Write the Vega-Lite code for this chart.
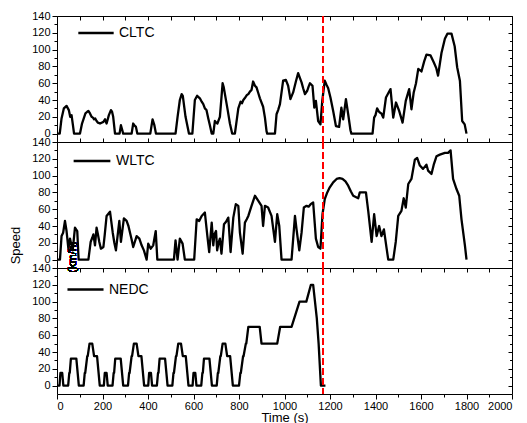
{
  "$schema": "https://vega.github.io/schema/vega-lite/v6.json",
  "background": "white",
  "padding": {"left": 8, "top": 9, "right": 5, "bottom": 0},
  "bounds": "flush",
  "spacing": 0,
  "datasets": {
    "cltc": [
      {"t":0,"v":0},{"t":12,"v":0},{"t":20,"v":18},{"t":30,"v":30},{"t":42,"v":33},{"t":52,"v":28},{"t":58,"v":20},{"t":64,"v":22},{"t":70,"v":10},{"t":75,"v":0},
      {"t":101,"v":0},{"t":110,"v":12},{"t":125,"v":24},{"t":133,"v":26},{"t":138,"v":27},{"t":145,"v":24},{"t":152,"v":20},{"t":158,"v":19},{"t":163,"v":17},{"t":168,"v":18},{"t":174,"v":15},{"t":180,"v":13},{"t":189,"v":12},{"t":196,"v":13},{"t":204,"v":14},{"t":211,"v":17},{"t":218,"v":12},{"t":228,"v":22},{"t":237,"v":28},{"t":242,"v":26},{"t":247,"v":20},{"t":255,"v":0},
      {"t":275,"v":0},{"t":281,"v":10},{"t":291,"v":0},{"t":328,"v":0},{"t":335,"v":12},{"t":340,"v":10},{"t":347,"v":8},{"t":353,"v":0},{"t":410,"v":0},{"t":420,"v":17},{"t":428,"v":10},{"t":435,"v":0},
      {"t":521,"v":0},{"t":530,"v":20},{"t":540,"v":40},{"t":548,"v":47},{"t":553,"v":45},{"t":565,"v":20},{"t":580,"v":0},
      {"t":595,"v":0},{"t":606,"v":40},{"t":616,"v":45},{"t":628,"v":42},{"t":636,"v":38},{"t":643,"v":35},{"t":650,"v":30},{"t":657,"v":28},{"t":665,"v":18},{"t":672,"v":10},{"t":680,"v":0},
      {"t":687,"v":0},{"t":694,"v":15},{"t":700,"v":13},{"t":705,"v":12},{"t":716,"v":20},{"t":728,"v":60},{"t":733,"v":55},{"t":749,"v":30},{"t":760,"v":12},{"t":770,"v":0},
      {"t":782,"v":0},{"t":797,"v":30},{"t":807,"v":38},{"t":813,"v":36},{"t":819,"v":40},{"t":825,"v":42},{"t":830,"v":44},{"t":835,"v":46},{"t":841,"v":47},{"t":848,"v":50},{"t":855,"v":52},{"t":862,"v":62},{"t":870,"v":57},{"t":877,"v":55},{"t":885,"v":48},{"t":892,"v":42},{"t":906,"v":32},{"t":914,"v":19},{"t":921,"v":3},{"t":924,"v":0},
      {"t":958,"v":0},{"t":965,"v":23},{"t":972,"v":28},{"t":980,"v":35},{"t":994,"v":63},{"t":1006,"v":64},{"t":1016,"v":57},{"t":1026,"v":41},{"t":1038,"v":49},{"t":1050,"v":62},{"t":1060,"v":72},{"t":1068,"v":66},{"t":1075,"v":61},{"t":1082,"v":54},{"t":1090,"v":47},{"t":1100,"v":51},{"t":1106,"v":56},{"t":1112,"v":60},{"t":1123,"v":57},{"t":1131,"v":31},{"t":1138,"v":39},{"t":1148,"v":15},{"t":1158,"v":11},{"t":1166,"v":39},{"t":1177,"v":63},{"t":1185,"v":58},{"t":1192,"v":54},{"t":1202,"v":43},{"t":1214,"v":27},{"t":1226,"v":9},{"t":1240,"v":8},{"t":1250,"v":31},{"t":1258,"v":17},{"t":1270,"v":41},{"t":1280,"v":23},{"t":1290,"v":4},{"t":1294,"v":0},
      {"t":1387,"v":0},{"t":1394,"v":19},{"t":1400,"v":22},{"t":1407,"v":30},{"t":1413,"v":27},{"t":1419,"v":25},{"t":1426,"v":24},{"t":1434,"v":19},{"t":1446,"v":43},{"t":1456,"v":48},{"t":1466,"v":53},{"t":1478,"v":19},{"t":1490,"v":37},{"t":1504,"v":27},{"t":1519,"v":13},{"t":1533,"v":39},{"t":1548,"v":53},{"t":1558,"v":29},{"t":1568,"v":49},{"t":1578,"v":60},{"t":1588,"v":77},{"t":1602,"v":74},{"t":1614,"v":86},{"t":1624,"v":94},{"t":1642,"v":93},{"t":1656,"v":85},{"t":1667,"v":78},{"t":1675,"v":69},{"t":1690,"v":96},{"t":1705,"v":113},{"t":1716,"v":119},{"t":1734,"v":119},{"t":1748,"v":104},{"t":1759,"v":79},{"t":1771,"v":63},{"t":1781,"v":15},{"t":1792,"v":11},{"t":1800,"v":0}
    ],
    "wltc": [
      {"t":0,"v":0},{"t":13,"v":0},{"t":20,"v":28},{"t":27,"v":32},{"t":35,"v":46},{"t":42,"v":34},{"t":50,"v":13},{"t":57,"v":25},{"t":63,"v":18},{"t":69,"v":11},{"t":79,"v":38},{"t":89,"v":34},{"t":95,"v":0},
      {"t":138,"v":0},{"t":148,"v":21},{"t":155,"v":26},{"t":160,"v":30},{"t":167,"v":17},{"t":174,"v":38},{"t":180,"v":30},{"t":186,"v":21},{"t":193,"v":13},{"t":204,"v":15},{"t":210,"v":30},{"t":218,"v":52},{"t":233,"v":57},{"t":245,"v":32},{"t":252,"v":20},{"t":259,"v":11},{"t":274,"v":46},{"t":281,"v":21},{"t":294,"v":49},{"t":306,"v":46},{"t":314,"v":40},{"t":321,"v":32},{"t":328,"v":24},{"t":335,"v":15},{"t":350,"v":28},{"t":362,"v":25},{"t":372,"v":17},{"t":382,"v":11},{"t":394,"v":0},{"t":401,"v":19},{"t":412,"v":13},{"t":423,"v":17},{"t":434,"v":34},{"t":441,"v":0},
      {"t":514,"v":0},{"t":521,"v":23},{"t":530,"v":0},{"t":540,"v":25},{"t":552,"v":19},{"t":562,"v":0},
      {"t":603,"v":0},{"t":614,"v":48},{"t":625,"v":46},{"t":636,"v":52},{"t":650,"v":56},{"t":661,"v":28},{"t":669,"v":9},{"t":680,"v":44},{"t":687,"v":17},{"t":692,"v":30},{"t":699,"v":34},{"t":704,"v":11},{"t":710,"v":20},{"t":716,"v":25},{"t":723,"v":7},{"t":734,"v":42},{"t":743,"v":45},{"t":753,"v":50},{"t":763,"v":9},{"t":775,"v":50},{"t":786,"v":66},{"t":797,"v":64},{"t":804,"v":32},{"t":816,"v":7},{"t":826,"v":44},{"t":834,"v":48},{"t":841,"v":52},{"t":848,"v":58},{"t":855,"v":64},{"t":870,"v":76},{"t":885,"v":70},{"t":899,"v":64},{"t":906,"v":40},{"t":914,"v":64},{"t":928,"v":62},{"t":943,"v":52},{"t":958,"v":21},{"t":968,"v":54},{"t":977,"v":40},{"t":987,"v":0},
      {"t":1031,"v":0},{"t":1046,"v":52},{"t":1053,"v":36},{"t":1065,"v":11},{"t":1075,"v":32},{"t":1085,"v":62},{"t":1097,"v":64},{"t":1106,"v":63},{"t":1115,"v":66},{"t":1126,"v":68},{"t":1138,"v":25},{"t":1148,"v":15},{"t":1158,"v":13},{"t":1167,"v":54},{"t":1177,"v":72},{"t":1188,"v":80},{"t":1199,"v":86},{"t":1214,"v":92},{"t":1229,"v":96},{"t":1242,"v":97},{"t":1255,"v":96},{"t":1268,"v":93},{"t":1280,"v":88},{"t":1292,"v":81},{"t":1302,"v":76},{"t":1324,"v":73},{"t":1331,"v":80},{"t":1358,"v":80},{"t":1368,"v":58},{"t":1383,"v":21},{"t":1394,"v":54},{"t":1405,"v":28},{"t":1416,"v":40},{"t":1426,"v":28},{"t":1437,"v":36},{"t":1449,"v":13},{"t":1456,"v":0},
      {"t":1478,"v":0},{"t":1489,"v":21},{"t":1500,"v":52},{"t":1514,"v":58},{"t":1524,"v":73},{"t":1533,"v":62},{"t":1544,"v":90},{"t":1558,"v":96},{"t":1573,"v":119},{"t":1583,"v":121},{"t":1595,"v":112},{"t":1609,"v":108},{"t":1624,"v":113},{"t":1631,"v":106},{"t":1646,"v":102},{"t":1656,"v":113},{"t":1668,"v":123},{"t":1683,"v":125},{"t":1705,"v":127},{"t":1719,"v":127},{"t":1730,"v":130},{"t":1741,"v":96},{"t":1756,"v":84},{"t":1768,"v":76},{"t":1778,"v":48},{"t":1793,"v":17},{"t":1800,"v":0}
    ],
    "nedc": [
      {"t":0,"v":0},{"t":11,"v":0},{"t":15,"v":15},{"t":23,"v":15},{"t":28,"v":0},{"t":49,"v":0},{"t":54,"v":15},{"t":56,"v":15},{"t":61,"v":32},{"t":85,"v":32},{"t":96,"v":0},{"t":117,"v":0},{"t":122,"v":15},{"t":124,"v":15},{"t":133,"v":35},{"t":135,"v":35},{"t":143,"v":50},{"t":155,"v":50},{"t":163,"v":35},{"t":176,"v":35},{"t":188,"v":0},
      {"t":195,"v":0},{"t":206,"v":0},{"t":210,"v":15},{"t":218,"v":15},{"t":223,"v":0},{"t":244,"v":0},{"t":249,"v":15},{"t":251,"v":15},{"t":256,"v":32},{"t":280,"v":32},{"t":291,"v":0},{"t":312,"v":0},{"t":317,"v":15},{"t":319,"v":15},{"t":328,"v":35},{"t":330,"v":35},{"t":338,"v":50},{"t":350,"v":50},{"t":358,"v":35},{"t":371,"v":35},{"t":383,"v":0},
      {"t":390,"v":0},{"t":401,"v":0},{"t":405,"v":15},{"t":413,"v":15},{"t":418,"v":0},{"t":439,"v":0},{"t":444,"v":15},{"t":446,"v":15},{"t":451,"v":32},{"t":475,"v":32},{"t":486,"v":0},{"t":507,"v":0},{"t":512,"v":15},{"t":514,"v":15},{"t":523,"v":35},{"t":525,"v":35},{"t":533,"v":50},{"t":545,"v":50},{"t":553,"v":35},{"t":566,"v":35},{"t":578,"v":0},
      {"t":585,"v":0},{"t":596,"v":0},{"t":600,"v":15},{"t":608,"v":15},{"t":613,"v":0},{"t":634,"v":0},{"t":639,"v":15},{"t":641,"v":15},{"t":646,"v":32},{"t":670,"v":32},{"t":681,"v":0},{"t":702,"v":0},{"t":707,"v":15},{"t":709,"v":15},{"t":718,"v":35},{"t":720,"v":35},{"t":728,"v":50},{"t":740,"v":50},{"t":748,"v":35},{"t":761,"v":35},{"t":773,"v":0},
      {"t":800,"v":0},{"t":806,"v":15},{"t":808,"v":15},{"t":818,"v":35},{"t":820,"v":35},{"t":830,"v":50},{"t":832,"v":50},{"t":841,"v":70},{"t":891,"v":70},{"t":899,"v":50},{"t":968,"v":50},{"t":981,"v":70},{"t":1031,"v":70},{"t":1066,"v":100},{"t":1096,"v":100},{"t":1116,"v":120},{"t":1126,"v":120},{"t":1142,"v":80},{"t":1150,"v":50},{"t":1160,"v":0},{"t":1180,"v":0}
    ]
  },
  "vconcat": [
    {
      "width": 455, "height": 126,
      "data": {"name": "cltc"},
      "layer": [
        {
          "mark": {"type": "line", "strokeWidth": 2.3, "strokeJoin": "round", "color": "black"},
          "encoding": {
            "x": {"field": "t", "type": "quantitative", "scale": {"domain": [0, 2000], "nice": false, "zero": false},
                  "axis": {"orient": "bottom", "values": [0,100,200,300,400,500,600,700,800,900,1000,1100,1200,1300,1400,1500,1600,1700,1800,1900,2000], "labels": false, "tickSize": -4, "domain": false, "grid": false, "title": null}},
            "y": {"field": "v", "type": "quantitative", "scale": {"domain": [-10, 140], "nice": false, "zero": false},
                  "axis": {"orient": "left", "values": [0,10,20,30,40,50,60,70,80,90,100,110,120,130,140], "labelExpr": "datum.value % 20 === 0 ? datum.label : ''", "tickSize": {"condition": {"test": "datum.value % 20 === 0", "value": 5}, "value": 3}, "labelFontSize": 11, "labelPadding": 2, "labelOverlap": false, "domain": false, "grid": false, "title": null}},
            "color": {"datum": "CLTC", "type": "nominal", "scale": {"range": ["black"]},
                      "legend": {"orient": "none", "legendX": 20, "legendY": -2, "symbolType": "stroke", "symbolSize": 1250, "symbolStrokeWidth": 2.5, "labelFontSize": 14, "labelOffset": 4, "title": null, "padding": 0}}
          }
        },
        {
          "mark": {"type": "rule", "color": "#ff0000", "strokeDash": [7, 3], "strokeWidth": 1.6},
          "encoding": {"x": {"datum": 1170, "type": "quantitative", "axis": null}}
        },
        {
          "mark": {"type": "line", "opacity": 0},
          "encoding": {
            "x": {"field": "t", "type": "quantitative", "axis": {"orient": "top", "values": [0,100,200,300,400,500,600,700,800,900,1000,1100,1200,1300,1400,1500,1600,1700,1800,1900,2000], "labels": false, "tickSize": -4, "domain": false, "grid": false, "title": null}},
            "y": {"field": "v", "type": "quantitative", "axis": {"orient": "right", "values": [0,10,20,30,40,50,60,70,80,90,100,110,120,130,140], "labels": false, "tickSize": {"condition": {"test": "datum.value % 20 === 0", "value": -4}, "value": -2.5}, "domain": false, "grid": false, "title": null}}
          }
        }
      ],
      "resolve": {"axis": {"x": "independent", "y": "independent"}}
    },
    {
      "width": 455, "height": 126,
      "data": {"name": "wltc"},
      "layer": [
        {
          "mark": {"type": "line", "strokeWidth": 2.3, "strokeJoin": "round", "color": "black"},
          "encoding": {
            "x": {"field": "t", "type": "quantitative", "scale": {"domain": [0, 2000], "nice": false, "zero": false}, "axis": null},
            "y": {"field": "v", "type": "quantitative", "scale": {"domain": [-10, 140], "nice": false, "zero": false},
                  "axis": {"orient": "left", "values": [0,10,20,30,40,50,60,70,80,90,100,110,120,130,140], "labelExpr": "datum.value % 20 === 0 ? datum.label : ''", "tickSize": {"condition": {"test": "datum.value % 20 === 0", "value": 5}, "value": 3}, "labelFontSize": 11, "labelPadding": 2, "labelOverlap": false, "domain": false, "grid": false,
                           "title": "Speed", "titleFontSize": 13, "titleFontWeight": "normal", "titleAngle": 270, "titleX": -38, "titleY": 103, "titleAlign": "center", "titleBaseline": "alphabetic"}},
            "color": {"datum": "WLTC", "type": "nominal", "scale": {"range": ["black"]},
                      "legend": {"orient": "none", "legendX": 15, "legendY": -1, "symbolType": "stroke", "symbolSize": 1350, "symbolStrokeWidth": 2.5, "labelFontSize": 14, "labelOffset": 4, "title": null, "padding": 0}}
          }
        },
        {
          "mark": {"type": "rule", "color": "#ff0000", "strokeDash": [7, 3], "strokeWidth": 1.6},
          "encoding": {"x": {"datum": 1170, "type": "quantitative", "axis": null}}
        },
        {
          "mark": {"type": "text", "angle": 270, "fontSize": 11, "color": "black"},
          "encoding": {"x": {"datum": 72, "type": "quantitative", "axis": null}, "y": {"datum": 3, "type": "quantitative", "axis": null}, "text": {"value": "(km/h)"}}
        },
        {
          "mark": {"type": "line", "opacity": 0},
          "encoding": {
            "x": {"field": "t", "type": "quantitative", "axis": null},
            "y": {"field": "v", "type": "quantitative", "axis": {"orient": "right", "values": [0,10,20,30,40,50,60,70,80,90,100,110,120,130,140], "labels": false, "tickSize": {"condition": {"test": "datum.value % 20 === 0", "value": -4}, "value": -2.5}, "domain": false, "grid": false, "title": null}}
          }
        }
      ],
      "resolve": {"axis": {"x": "independent", "y": "independent"}}
    },
    {
      "width": 455, "height": 126,
      "data": {"name": "nedc"},
      "layer": [
        {
          "mark": {"type": "line", "strokeWidth": 2.3, "strokeJoin": "round", "color": "black"},
          "encoding": {
            "x": {"field": "t", "type": "quantitative", "scale": {"domain": [0, 2000], "nice": false, "zero": false},
                  "axis": {"orient": "bottom", "values": [0,100,200,300,400,500,600,700,800,900,1000,1100,1200,1300,1400,1500,1600,1700,1800,1900,2000], "format": "d", "labelExpr": "datum.value % 200 === 0 ? datum.label : ''", "tickSize": {"condition": {"test": "datum.value % 200 === 0", "value": 5}, "value": 3}, "labelFontSize": 11, "labelPadding": 1, "labelOverlap": false, "domain": false, "grid": false, "title": "Time (s)", "titleFontSize": 13, "titleFontWeight": "normal", "titlePadding": 0}},
            "y": {"field": "v", "type": "quantitative", "scale": {"domain": [-10, 140], "nice": false, "zero": false},
                  "axis": {"orient": "left", "values": [0,10,20,30,40,50,60,70,80,90,100,110,120,130,140], "labelExpr": "datum.value % 20 === 0 ? datum.label : ''", "tickSize": {"condition": {"test": "datum.value % 20 === 0", "value": 5}, "value": 3}, "labelFontSize": 11, "labelPadding": 2, "labelOverlap": false, "domain": false, "grid": false, "title": null}},
            "color": {"datum": "NEDC", "type": "nominal", "scale": {"range": ["black"]},
                      "legend": {"orient": "none", "legendX": 9, "legendY": 2, "symbolType": "stroke", "symbolSize": 1300, "symbolStrokeWidth": 2.5, "labelFontSize": 14, "labelOffset": 4, "title": null, "padding": 0}}
          }
        },
        {
          "mark": {"type": "rule", "color": "#ff0000", "strokeDash": [7, 3], "strokeWidth": 1.6},
          "encoding": {"x": {"datum": 1170, "type": "quantitative", "axis": null}}
        },
        {
          "mark": {"type": "line", "opacity": 0},
          "encoding": {
            "x": {"field": "t", "type": "quantitative", "axis": {"orient": "top", "values": [0,100,200,300,400,500,600,700,800,900,1000,1100,1200,1300,1400,1500,1600,1700,1800,1900,2000], "labels": false, "tickSize": -4, "domain": false, "grid": false, "title": null}},
            "y": {"field": "v", "type": "quantitative", "axis": {"orient": "right", "values": [0,10,20,30,40,50,60,70,80,90,100,110,120,130,140], "labels": false, "tickSize": {"condition": {"test": "datum.value % 20 === 0", "value": -4}, "value": -2.5}, "domain": false, "grid": false, "title": null}}
          }
        }
      ],
      "resolve": {"axis": {"x": "independent", "y": "independent"}}
    }
  ],
  "resolve": {"scale": {"color": "independent"}, "legend": {"color": "independent"}},
  "config": {
    "font": "Liberation Sans",
    "view": {"stroke": "black", "strokeWidth": 1},
    "axis": {"labelFont": "Liberation Sans", "titleFont": "Liberation Sans", "labelColor": "black", "titleColor": "black", "tickColor": "black", "tickWidth": 1},
    "legend": {"labelFont": "Liberation Sans", "labelColor": "black"},
    "text": {"font": "Liberation Sans"}
  }
}
